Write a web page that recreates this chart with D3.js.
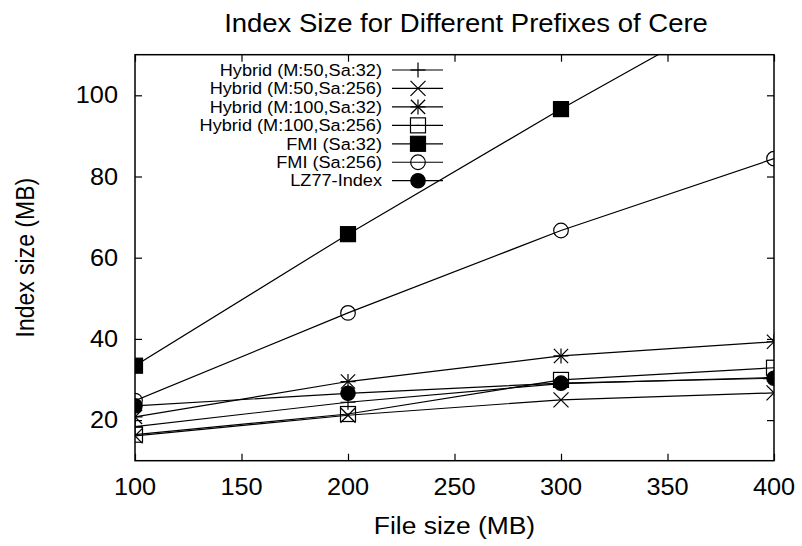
<!DOCTYPE html>
<html>
<head>
<meta charset="utf-8">
<script src="https://cdn.jsdelivr.net/npm/d3@7/dist/d3.min.js"></script>
<style>
  html, body { margin: 0; padding: 0; background: #fff; }
  svg { display: block; }
  text { font-family: "Liberation Sans", Arial, Helvetica, sans-serif; fill: #000; }
</style>
</head>
<body>
<svg id="chart" width="802" height="546"></svg>
<script>
// ---- data ----
const fileSizes = [100, 200, 300, 400];
const seriesNames = [
  "Hybrid (M:50,Sa:32)",
  "Hybrid (M:50,Sa:256)",
  "Hybrid (M:100,Sa:32)",
  "Hybrid (M:100,Sa:256)",
  "FMI (Sa:32)",
  "FMI (Sa:256)",
  "LZ77-Index"
];
const hybrid50_32   = [18.4, 24.4, 29.0, 30.5];
const hybrid50_256  = [16.1, 21.2, 25.0, 26.7];
const hybrid100_32  = [20.8, 29.5, 35.8, 39.3];
const hybrid100_256 = [16.4, 21.5, 29.9, 32.9];
const fmi32         = [33.4, 65.8, 96.6, 126.0];
const fmi256        = [24.8, 46.4, 66.7, 84.4];
const lz77          = [23.5, 26.6, 29.1, 30.3];
const markerTypes = ["plus", "cross", "star", "square", "squareFilled", "circle", "circleFilled"];
const xTicks = [100, 150, 200, 250, 300, 350, 400];
const yTicks = [20, 40, 60, 80, 100];
const titleText = "Index Size for Different Prefixes of Cere";
const xLabel = "File size (MB)";
const yLabel = "Index size (MB)";

const allSeries = [hybrid50_32, hybrid50_256, hybrid100_32, hybrid100_256, fmi32, fmi256, lz77];

// ---- layout ----
const svg = d3.select("#chart");
const L = 135, R = 774, T = 54.7, B = 460.7;
const SX = 1.1; // horizontal text stretch
const x = d3.scaleLinear().domain([100, 400]).range([L, R]);
const y = d3.scaleLinear().domain([10, 110]).range([B, T]);

svg.append("defs").append("clipPath").attr("id", "plotclip")
  .append("rect").attr("x", L).attr("y", T).attr("width", R - L).attr("height", B - T);

function stretchedText(g, tx, ty, str, size, anchor, rotate) {
  const gg = g.append("g").attr("transform",
    `translate(${tx},${ty})` + (rotate ? ` rotate(${rotate}) scale(1,${SX})` : ` scale(${SX},1)`));
  return gg.append("text").attr("x", 0).attr("y", 0)
    .attr("text-anchor", anchor).attr("dominant-baseline", "central")
    .style("font-size", size + "px").text(str);
}

// ticks (inward, mirrored)
const tickLen = 7;
const axX = svg.append("g").attr("transform", `translate(0,${B})`)
  .call(d3.axisBottom(x).tickValues(xTicks).tickSize(-tickLen).tickFormat(""));
const axXt = svg.append("g").attr("transform", `translate(0,${T})`)
  .call(d3.axisTop(x).tickValues(xTicks).tickSize(-tickLen).tickFormat(""));
const axY = svg.append("g").attr("transform", `translate(${L},0)`)
  .call(d3.axisLeft(y).tickValues(yTicks).tickSize(-tickLen).tickFormat(""));
const axYr = svg.append("g").attr("transform", `translate(${R},0)`)
  .call(d3.axisRight(y).tickValues(yTicks).tickSize(-tickLen).tickFormat(""));
[axX, axXt, axY, axYr].forEach(a => {
  a.select(".domain").remove();
  a.selectAll("line").attr("stroke", "#000").attr("stroke-width", 1.2);
});

// tick labels
const labG = svg.append("g");
xTicks.forEach(v => stretchedText(labG, x(v), 487, String(v), 23, "middle"));
yTicks.forEach(v => stretchedText(labG, L - 17, y(v), String(v), 23, "end"));

// border
svg.append("rect").attr("x", L).attr("y", T).attr("width", R - L).attr("height", B - T)
  .attr("fill", "none").attr("stroke", "#000").attr("stroke-width", 1.5);

// titles
stretchedText(svg, 466, 23, titleText, 25, "middle");
stretchedText(svg, (L + R) / 2, 525, xLabel, 24, "middle");
stretchedText(svg, 25, (T + B) / 2, yLabel, 23, "middle", -90);

// markers
const MS = 7.5;
function drawMarker(g, type, cx, cy) {
  const s = MS;
  if (type === "plus" || type === "star") {
    g.append("line").attr("x1", cx - s).attr("x2", cx + s).attr("y1", cy).attr("y2", cy);
    g.append("line").attr("x1", cx).attr("x2", cx).attr("y1", cy - s).attr("y2", cy + s);
  }
  if (type === "cross" || type === "star") {
    const d = type === "star" ? s * 0.95 : s;
    g.append("line").attr("x1", cx - d).attr("x2", cx + d).attr("y1", cy - d).attr("y2", cy + d);
    g.append("line").attr("x1", cx - d).attr("x2", cx + d).attr("y1", cy + d).attr("y2", cy - d);
  }
  if (type === "square") {
    g.append("rect").attr("x", cx - s).attr("y", cy - s).attr("width", 2 * s).attr("height", 2 * s)
      .attr("fill", "none");
    g.append("rect").attr("x", cx - 0.6).attr("y", cy - 0.6).attr("width", 1.2).attr("height", 1.2)
      .attr("fill", "#000").attr("stroke", "none");
  }
  if (type === "squareFilled") {
    g.append("rect").attr("x", cx - s).attr("y", cy - s).attr("width", 2 * s).attr("height", 2 * s)
      .attr("fill", "#000");
  }
  if (type === "circle") {
    g.append("circle").attr("cx", cx).attr("cy", cy).attr("r", 7.3).attr("fill", "none");
  }
  if (type === "circleFilled") {
    g.append("circle").attr("cx", cx).attr("cy", cy).attr("r", 7.2).attr("fill", "#000");
  }
}

const line = d3.line().x((d, i) => x(fileSizes[i])).y(d => y(d));
const plotG = svg.append("g").attr("clip-path", "url(#plotclip)");
allSeries.forEach((vals, si) => {
  const g = plotG.append("g").attr("stroke", "#000").attr("stroke-width", 1.2);
  g.append("path").datum(vals).attr("d", line).attr("fill", "none");
  vals.forEach((v, i) => drawMarker(g, markerTypes[si], x(fileSizes[i]), y(v)));
});

// legend
const legG = svg.append("g");
seriesNames.forEach((name, i) => {
  const cy = 70 + i * 18.45;
  stretchedText(legG, 382, cy, name, 16.5, "end");
  const g = legG.append("g").attr("stroke", "#000").attr("stroke-width", 1.2);
  g.append("line").attr("x1", 392).attr("x2", 443).attr("y1", cy).attr("y2", cy);
  drawMarker(g, markerTypes[i], 418, cy);
});
</script>
</body>
</html>
